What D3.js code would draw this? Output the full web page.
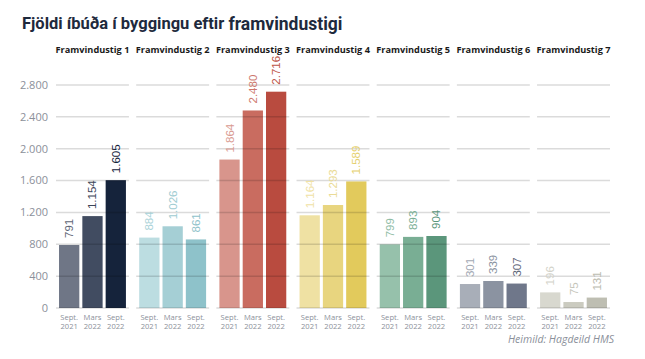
<!DOCTYPE html>
<html><head><meta charset="utf-8">
<script src="https://cdn.jsdelivr.net/npm/d3@7"></script>
<style>body{margin:0;background:#fff}</style>
</head><body>
<svg id="c" width="645" height="359"></svg>
<script>
const stages = ["Framvindustig 1","Framvindustig 2","Framvindustig 3","Framvindustig 4","Framvindustig 5","Framvindustig 6","Framvindustig 7"];
const periods = ["Sept. 2021","Mars 2022","Sept. 2022"];
const sept2021 = [791, 884, 1864, 1164, 799, 301, 196];
const mars2022 = [1154, 1026, 2480, 1293, 893, 339, 75];
const sept2022 = [1605, 861, 2716, 1589, 904, 307, 131];
const yTicks = [0, 400, 800, 1200, 1600, 2000, 2400, 2800];
const barColors = [
  ["#6f7686","#414c61","#15233b"],
  ["#bcdde1","#a5cfd5","#8ec2ca"],
  ["#d8958c","#c96c60","#b94b3f"],
  ["#efe1a3","#e8d57f","#e2ca5c"],
  ["#96c1ab","#79ae94","#5b967b"],
  ["#a8aeb8","#8b93a1","#6f778a"],
  ["#d8d8cf","#cbcbc0","#bebeb2"]
];
const labelColors = [
  ["#5e6575","#3c4558","#15233b"],
  ["#a9d2d8","#a0ccd2","#8fc2ca"],
  ["#d99a91","#cd786d","#bd5548"],
  ["#f0e2a6","#eadb96","#e5d06e"],
  ["#8fbca5","#79ae94","#5b967b"],
  ["#a3a9b4","#8b93a1","#5f677a"],
  ["#d3d3ca","#c5c5ba","#bcbcb0"]
];

const svg = d3.select("#c");
const fmt = v => d3.format(",")(v).replace(/,/g, ".");
const y = d3.scaleLinear().domain([0, 2800]).range([308, 85]);
const xs = d3.scaleBand().domain(stages).range([56, 610]).paddingInner(0.09).paddingOuter(0);
const xi = d3.scaleBand().domain(periods).range([0, xs.bandwidth()]).paddingInner(0.13).paddingOuter(0.13);

// title
const t = svg.append("text").attr("x", 22).attr("y", 29)
  .attr("font-family", "Roboto, 'Open Sans', sans-serif").attr("font-weight", 700)
  .attr("fill", "#1e2a3d");
t.append("tspan").attr("font-size", 16.5).text("Fjöldi íbúða í byggingu eftir ");
t.append("tspan").attr("font-size", 17.5).attr("dy", 1).text("framvindustigi");

// y axis labels
svg.append("g").selectAll("text").data(yTicks).join("text")
  .attr("x", 48).attr("y", d => y(d)).attr("dy", "0.35em")
  .attr("text-anchor", "end").attr("font-family", "'Open Sans', sans-serif")
  .attr("font-size", 11).attr("fill", "#8b909a").text(d => fmt(d));

const panels = svg.append("g").selectAll("g").data(stages).join("g")
  .attr("transform", d => `translate(${xs(d)},0)`);

panels.append("text").attr("x", xs.bandwidth() / 2).attr("y", 53)
  .attr("text-anchor", "middle").attr("font-family", "'Open Sans', sans-serif")
  .attr("font-weight", 700).attr("font-size", 9.2).attr("fill", "#1a1a1a").text(d => d);

const rows = (s, i) => periods.map((p, j) => ({p, j, i, v: [sept2021, mars2022, sept2022][j][i]}));

panels.each(function(s, i) {
  const g = d3.select(this);
  const data = rows(s, i);
  g.selectAll("rect").data(data).join("rect")
    .attr("x", d => xi(d.p)).attr("width", xi.bandwidth())
    .attr("y", d => y(d.v)).attr("height", d => y(0) - y(d.v))
    .attr("fill", d => barColors[i][d.j]);
  // gridlines on top
  g.selectAll("line").data(yTicks).join("line")
    .attr("x1", 0).attr("x2", xs.bandwidth())
    .attr("y1", d => y(d)).attr("y2", d => y(d))
    .attr("stroke", "#000").attr("stroke-opacity", 0.14).attr("stroke-width", 1.5);
  g.selectAll("text.v").data(data).join("text").attr("class", "v")
    .attr("transform", d => `translate(${xi(d.p) + xi.bandwidth() / 2 + 4},${y(d.v) - 7}) rotate(-90)`)
    .attr("font-family", "'Liberation Sans', Arial, sans-serif").attr("font-size", 11.5)
    .attr("fill", d => labelColors[i][d.j]).text(d => fmt(d.v));
  const xl = g.selectAll("text.x").data(data).join("text").attr("class", "x")
    .attr("text-anchor", "middle").attr("font-family", "'Open Sans', sans-serif")
    .attr("font-size", 7.6).attr("fill", "#8b909a");
  xl.append("tspan").attr("x", d => xi(d.p) + xi.bandwidth() / 2).attr("y", 320).text(d => d.p.split(" ")[0]);
  xl.append("tspan").attr("x", d => xi(d.p) + xi.bandwidth() / 2).attr("y", 329).text(d => d.p.split(" ")[1]);
});

svg.append("text").attr("x", 614).attr("y", 343).attr("text-anchor", "end")
  .attr("font-family", "'Open Sans', sans-serif").attr("font-style", "italic")
  .attr("font-size", 10.5).attr("fill", "#8b909a").text("Heimild: Hagdeild HMS");
</script>
</body></html>
